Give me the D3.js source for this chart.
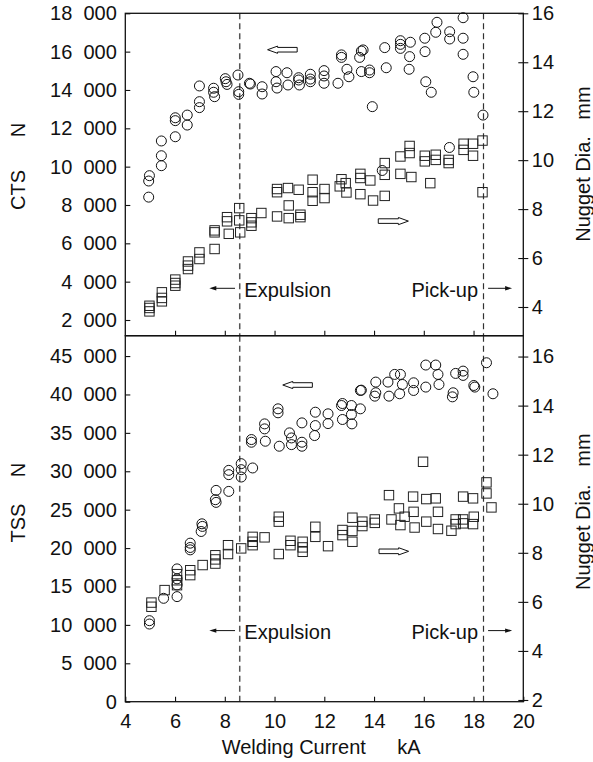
<!DOCTYPE html>
<html>
<head>
<meta charset="utf-8">
<script src="https://cdn.jsdelivr.net/npm/d3@7"></script>
<style>
  body { margin: 0; background: #fff; }
  text { font-family: "Liberation Sans", Arial, sans-serif; fill: #111; }
</style>
</head>
<body>
<script>
// x ticks (welding current, kA)
var currentTicks = [4, 6, 8, 10, 12, 14, 16, 18, 20];
var ctsTicks = [2000, 4000, 6000, 8000, 10000, 12000, 14000, 16000, 18000];
var tssTicks = [0, 5000, 10000, 15000, 20000, 25000, 30000, 35000, 40000, 45000];
var ctsDiaTicks = [4, 6, 8, 10, 12, 14, 16];
var tssDiaTicks = [2, 4, 6, 8, 10, 12, 14, 16];

// expulsion / pick-up limits (kA)
var limits = [8.6, 18.4];

// CTS (N) vs current (kA)
var ctsLoad = [[4.94,9250],[4.97,9530],[4.94,8410],[5.45,10050],[5.45,10570],[5.45,11340],[6.01,11560],[6.01,12400],[6.01,12550],
  [6.49,12170],[6.49,12690],[6.98,13080],[6.98,13390],[6.98,14210],[7.55,14090],[7.55,13880],[7.59,13650],[8.02,14590],[8.05,14430],
  [8.09,14290],[8.53,14780],[8.56,13910],[8.56,13770],[8.99,14350],[9.03,14310],[9.5,14170],[9.5,13790],[10.06,14960],[10.06,14430],
  [10.1,14100],[10.5,14900],[10.54,14260],[10.97,14640],[10.97,14520],[11.0,14260],[11.44,14820],[11.44,14570],[11.44,14430],
  [11.99,15010],[11.99,14730],[11.99,14350],[12.55,14350],[12.69,15830],[12.69,15700],[12.91,15080],[12.99,14690],[13.42,15700],
  [13.49,16030],[13.56,16090],[13.49,14960],[13.82,15040],[13.82,14900],[13.93,13130],[14.43,16210],[14.49,15160],[15.06,16570],
  [15.06,16380],[15.06,16170],[15.46,16490],[15.43,15740],[15.41,15080],[16.04,16700],[16.05,16000],[16.08,14430],[16.3,13880],
  [16.48,17010],[16.53,17530],[17.04,17040],[17.04,16660],[17.58,17770],[17.58,16700],[17.58,15860],[17.98,14690],[18.01,13880],
  [18.38,12690],[14.33,9800],[17.03,11000]];

// CTS nugget diameter (mm) vs current (kA)
var ctsNugget = [[4.97,4.05],[4.97,3.96],[4.97,3.82],[5.47,4.6],[5.47,4.37],[5.47,4.23],[6.01,5.12],[6.01,4.98],[6.01,4.87],
  [6.52,5.86],[6.52,5.69],[6.52,5.55],[6.98,6.23],[6.98,5.96],[7.59,7.13],[7.59,7.05],[7.59,6.37],[8.09,7.67],[8.09,7.5],[8.16,6.99],
  [8.58,8.04],[8.58,7.54],[8.62,7.05],[9.07,7.63],[9.07,7.46],[9.07,7.32],[9.47,7.84],[10.1,8.82],[10.1,8.69],[10.1,7.7],[10.54,8.86],
  [10.57,8.15],[10.57,7.63],[10.97,8.79],[11.04,7.77],[11.04,7.67],[11.53,9.2],[11.53,8.69],[11.53,8.34],[12.01,8.82],[12.01,8.45],
  [12.69,9.22],[12.62,8.93],[12.86,9.06],[12.89,8.68],[13.45,9.44],[13.45,9.27],[13.45,8.61],[13.85,9.17],[13.96,8.35],[14.43,9.88],
  [14.43,9.4],[14.43,8.54],[15.06,10.15],[15.06,9.44],[15.43,10.58],[15.43,10.29],[15.5,9.31],[16.04,10.18],[16.04,9.95],[16.26,9.06],
  [16.48,10.22],[16.48,10.01],[17.0,10.01],[17.0,9.88],[17.6,10.67],[17.6,10.42],[17.98,10.67],[17.98,10.18],[18.36,10.8],[18.36,8.69]];

// TSS (N) vs current (kA)
var tssLoad = [[4.97,10550],[4.97,10110],[5.54,13460],[6.08,17290],[6.08,15990],[6.08,15200],[6.08,13680],[6.61,20640],[6.61,20080],
  [6.61,19770],[7.08,23160],[7.1,22820],[7.05,22160],[7.65,27510],[7.62,26300],[7.65,25950],[8.16,27380],[8.16,30120],[8.16,29560],
  [8.66,30990],[8.66,30210],[8.66,29250],[9.12,30430],[9.07,34130],[9.07,33780],[9.6,36170],[9.6,35520],[9.63,33910],[10.14,38130],
  [10.14,37610],[10.19,33260],[10.6,35000],[10.68,34340],[10.68,33470],[11.1,36300],[11.1,33780],[11.1,33260],[11.64,37690],
  [11.64,35950],[11.61,34650],[12.15,37480],[12.15,36210],[12.73,38820],[12.69,38560],[12.73,36740],[13.09,38560],[13.09,37390],
  [13.11,36170],[13.45,38130],[13.45,40520],[13.49,40560],[14.07,41610],[14.07,40220],[14.03,39780],[14.56,41610],[14.6,39780],
  [14.83,42610],[15.06,42610],[15.14,41300],[15.03,40090],[15.59,41520],[15.59,40520],[16.08,43830],[16.08,40960],[16.48,43830],
  [16.57,42610],[16.61,41300],[17.18,40220],[17.15,39690],[17.28,42740],[17.58,43040],[17.58,42480],[18.01,41170],[18.05,40960],
  [18.52,44130],[18.78,40090]];

// TSS nugget diameter (mm) vs current (kA)
var tssNugget = [[5.05,5.97],[5.05,5.8],[5.58,6.48],[6.08,6.68],[6.08,6.88],[6.08,7.13],[6.61,7.29],[6.61,7.09],[7.11,7.5],
  [7.62,7.9],[7.62,7.73],[7.62,7.56],[8.13,8.31],[8.13,7.95],[8.66,8.18],[9.12,8.65],[9.12,8.45],[9.12,8.31],[9.6,8.63],[10.17,9.47],
  [10.17,9.27],[10.17,7.95],[10.64,8.49],[10.64,8.31],[11.13,8.45],[11.13,8.22],[11.13,8.04],[11.64,9.06],[11.64,8.65],[12.15,8.27],
  [12.73,8.93],[12.73,8.72],[13.13,9.43],[13.13,8.89],[13.13,8.45],[13.53,9.27],[13.53,9.09],[14.03,9.36],[14.03,9.22],[14.6,10.35],
  [14.7,9.36],[15.0,9.81],[15.06,9.13],[15.23,9.47],[15.57,10.29],[15.59,9.67],[15.63,9.03],[15.97,11.71],[16.1,10.19],[16.1,9.27],
  [16.48,10.22],[16.57,9.67],[16.57,8.97],[17.11,8.9],[17.28,9.36],[17.28,9.17],[17.58,10.29],[17.58,9.36],[17.58,9.2],[17.98,10.22],
  [18.01,9.47],[17.98,9.17],[18.52,10.87],[18.52,10.42],[18.72,9.85]];

var W = 593, H = 762;
var left = 125.3, right = 523.3;
var top1 = 13.3, mid = 335.7, bot2 = 701.7;

var svg = d3.select("body").append("svg")
    .attr("width", W)
    .attr("height", H);

var x = d3.scaleLinear().domain([4, 20]).range([left, right]);

var ctsY = d3.scaleLinear().domain([1181, 18000]).range([mid, top1]);
var ctsD = d3.scaleLinear().domain([2.827, 16]).range([mid, top1]);
var tssY = d3.scaleLinear().domain([0, 47650]).range([bot2, mid]);
var tssD = d3.scaleLinear().domain([1.93, 16.85]).range([bot2, mid]);

// "18  000" style numbers
var fmt = d3.formatLocale({decimal: ".", thousands: "\u00a0\u00a0", grouping: [3], currency: ["", ""]}).format(",d");

var fontSize = "20px";

function panel(yScale, dScale, yTicks, dTicks, y0, y1, loads, nuggets, labelled) {

  // dashed expulsion / pick-up lines
  svg.append("g").selectAll("line")
    .data(limits)
    .enter().append("line")
      .attr("x1", function(d) { return x(d); })
      .attr("x2", function(d) { return x(d); })
      .attr("y1", y0)
      .attr("y2", y1)
      .attr("stroke", function(d, i) { return i === 0 ? "#555" : "#333"; })
      .attr("stroke-width", function(d, i) { return i === 0 ? 1.5 : 1.2; })
      .attr("stroke-dasharray", "6,4");

  // left axis, ticks inside
  var gl = svg.append("g")
      .attr("transform", "translate(" + left + ",0)")
      .call(d3.axisLeft(yScale).tickValues(yTicks).tickSize(-5).tickPadding(8.5).tickFormat(fmt));
  gl.select(".domain").remove();

  // right axis, ticks cross the frame
  var gr = svg.append("g")
      .attr("transform", "translate(" + right + ",0)")
      .call(d3.axisRight(dScale).tickValues(dTicks).tickSize(5).tickPadding(3.5));
  gr.select(".domain").remove();
  gr.selectAll(".tick line").attr("x1", -5);

  // bottom axis, ticks inside
  var gb = svg.append("g")
      .attr("transform", "translate(0," + y1 + ")")
      .call(d3.axisBottom(x).tickValues(labelled ? currentTicks : currentTicks.slice(1, -1))
        .tickSize(-5).tickPadding(12.5).tickFormat(labelled ? d3.format("d") : ""));
  gb.select(".domain").remove();

  [gl, gr, gb].forEach(function(g) {
    g.selectAll("text").style("font-size", fontSize).attr("fill", "#111")
      .style("font-family", "'Liberation Sans', Arial, sans-serif");
    g.selectAll("line").attr("stroke", "#111").attr("stroke-width", 1.1);
  });

  // frame
  svg.append("rect")
      .attr("x", left)
      .attr("y", y0)
      .attr("width", right - left)
      .attr("height", y1 - y0)
      .attr("fill", "none")
      .attr("stroke", "#111")
      .attr("stroke-width", 1.3);

  // circles: load
  svg.append("g").selectAll("circle")
    .data(loads)
    .enter().append("circle")
      .attr("cx", function(d) { return x(d[0]); })
      .attr("cy", function(d) { return yScale(d[1]); })
      .attr("r", 5)
      .attr("fill", "none")
      .attr("stroke", "#111")
      .attr("stroke-width", 1);

  // squares: nugget diameter
  var s = 9.4;
  svg.append("g").selectAll("rect")
    .data(nuggets)
    .enter().append("rect")
      .attr("x", function(d) { return x(d[0]) - s / 2; })
      .attr("y", function(d) { return dScale(d[1]) - s / 2; })
      .attr("width", s)
      .attr("height", s)
      .attr("fill", "none")
      .attr("stroke", "#222")
      .attr("stroke-width", 1);
}

panel(ctsY, ctsD, ctsTicks, ctsDiaTicks, top1, mid, ctsLoad, ctsNugget, false);
panel(tssY, tssD, tssTicks, tssDiaTicks, mid, bot2, tssLoad, tssNugget, true);

// hollow block arrow between [x0, x1] at pixel y, pointing "dir" (-1 left, 1 right)
function blockArrow(xa, xb, yy, dir) {
  var tip = dir < 0 ? xa : xb, tail = dir < 0 ? xb : xa;
  var neck = tip - dir * 10, hh = 3.6, sh = 2.3;
  var pts = [[tip, yy], [neck, yy - hh], [neck, yy - sh], [tail, yy - sh], [tail, yy + sh], [neck, yy + sh], [neck, yy + hh]];
  svg.append("path")
      .attr("d", d3.line()(pts) + "Z")
      .attr("fill", "#fff")
      .attr("stroke", "#111")
      .attr("stroke-width", 1);
}

blockArrow(x(9.72), x(10.91), ctsY(16100), -1);
blockArrow(x(14.17), x(15.38), ctsD(7.51), 1);
blockArrow(x(10.33), x(11.52), tssY(41230), -1);
blockArrow(x(14.2), x(15.39), tssD(8.06), 1);

// small arrow with filled head
function thinArrow(xa, xb, yy, dir) {
  var tip = dir < 0 ? xa : xb, tail = dir < 0 ? xb : xa;
  svg.append("line")
      .attr("x1", tail).attr("x2", tip - dir * 5)
      .attr("y1", yy).attr("y2", yy)
      .attr("stroke", "#111").attr("stroke-width", 1);
  svg.append("path")
      .attr("d", d3.line()([[tip, yy], [tip - dir * 7, yy - 2.2], [tip - dir * 7, yy + 2.2]]) + "Z")
      .attr("fill", "#111");
}

// expulsion / pick-up notes in both panels
[[mid, 296.7 - top1], [bot2, 639 - mid]].forEach(function(p, i) {
  var y0 = i === 0 ? top1 : mid;
  var base = y0 + p[1];
  svg.append("text")
      .attr("x", x(limits[0]) + 4.6)
      .attr("y", base)
      .style("font-size", fontSize)
      .text("Expulsion");
  thinArrow(x(limits[0]) - 30.4, x(limits[0]) - 4.7, base - 8.4, -1);
  svg.append("text")
      .attr("x", x(limits[1]) - 5.4)
      .attr("y", base)
      .attr("text-anchor", "end")
      .style("font-size", fontSize)
      .text("Pick-up");
  thinArrow(x(limits[1]) + 4.6, x(limits[1]) + 28.6, base - 8.4, 1);
});

// axis titles
function vtext(tx, ty, str, anchor) {
  svg.append("text")
      .attr("transform", "translate(" + tx + "," + ty + ") rotate(-90)")
      .attr("text-anchor", anchor)
      .style("font-size", fontSize)
      .text(str);
}

vtext(25, 190, "CTS", "middle");
vtext(25, 130, "N", "middle");
vtext(25, 523, "TSS", "middle");
vtext(25, 470, "N", "middle");

vtext(590, 241.7, "Nugget Dia.", "start");
vtext(590, 103, "mm", "middle");
vtext(590, 590, "Nugget Dia.", "start");
vtext(590, 450, "mm", "middle");

svg.append("text")
    .attr("x", 221.7)
    .attr("y", 754)
    .style("font-size", fontSize)
    .text("Welding Current");
svg.append("text")
    .attr("x", 397.3)
    .attr("y", 754)
    .style("font-size", fontSize)
    .text("kA");
</script>
</body>
</html>
